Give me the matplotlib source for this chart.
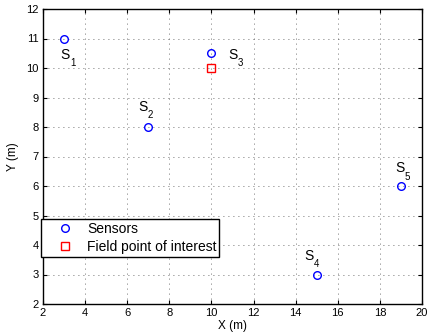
import matplotlib
matplotlib.use('Agg')
import matplotlib.pyplot as plt

plt.rcParams['font.family'] = ['Liberation Sans', 'DejaVu Sans']

# sensor positions
sensor_x = [3, 7, 10, 15, 19]
sensor_y = [11, 8, 10.5, 3, 6]
sensor_names = ['1', '2', '3', '4', '5']
# label anchors (data coords)
label_x = [3.05, 6.75, 11.0, 14.65, 18.95]
label_y = [10.45, 8.68, 10.45, 3.63, 6.6]

# field point of interest
field_x = [10]
field_y = [10]

fig = plt.figure(figsize=(4.3, 3.35), dpi=100)
ax = fig.add_axes([43 / 430, 31 / 335, 379 / 430, 295 / 335])

ax.plot(sensor_x, sensor_y, 'o', mfc='none', mec='blue', ms=5.5, mew=1,
        linestyle='none', label='Sensors')
ax.plot(field_x, field_y, 's', mfc='none', mec='red', ms=5.5, mew=1,
        linestyle='none', label='Field point of interest')

for lx, ly, n in zip(label_x, label_y, sensor_names):
    ax.text(lx, ly, 'S', fontsize=10, ha='center', va='center')
    ax.annotate(n, (lx, ly), xytext=(5.5, -6), textcoords='offset points',
                fontsize=7, ha='center', va='center')

ax.set_xlim(2, 20)
ax.set_ylim(2, 12)
ax.set_xticks(range(2, 21, 2))
ax.set_yticks(range(2, 13))
ax.grid(True, linestyle=(0, (1, 5)), color='#444444', linewidth=0.6)
ax.tick_params(direction='in', top=True, right=True, labelsize=8, length=3, pad=3)
for s in ax.spines.values():
    s.set_linewidth(1)
ax.set_xlabel('X (m)', fontsize=8.5, labelpad=1)
ax.set_ylabel('Y (m)', fontsize=8.5, labelpad=5)

leg = ax.legend(loc='lower left', bbox_to_anchor=(-0.005, 0.159), fontsize=10,
                frameon=True, fancybox=False, edgecolor='black', framealpha=1,
                borderpad=0.2, handletextpad=0.1, labelspacing=0.3,
                borderaxespad=0, handlelength=3.0)
leg.get_frame().set_linewidth(1)

fig.savefig('out.png', dpi=100)
